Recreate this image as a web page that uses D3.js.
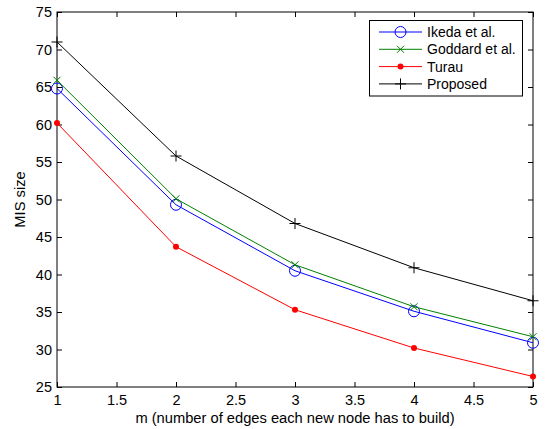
<!DOCTYPE html>
<html lang="en">
  <head>
    <meta charset="UTF-8" />
    <title>MIS size</title>
    <script src="https://d3js.org/d3.v7.min.js"></script>
    <style>
      body { margin: 0; background: #fff; }
      text { font-family: "Liberation Sans", Arial, sans-serif; fill: #000; }
    </style>
  </head>
  <body>
    <div id="chart"></div>
    <script>
      const mValues = [1, 2, 3, 4, 5];
      const ikeda = [64.8, 49.3, 40.5, 35.1, 30.9];
      const goddard = [65.9, 50.1, 41.3, 35.7, 31.7];
      const turau = [60.2, 43.7, 35.3, 30.2, 26.4];
      const proposed = [71.0, 55.8, 46.8, 40.9, 36.5];
      const xTicks = [1, 1.5, 2, 2.5, 3, 3.5, 4, 4.5, 5];
      const yTicks = [25, 30, 35, 40, 45, 50, 55, 60, 65, 70, 75];

      const series = [
        { name: "Ikeda et al.", values: ikeda, color: "#0000ff", marker: "circle" },
        { name: "Goddard et al.", values: goddard, color: "#008000", marker: "x" },
        { name: "Turau", values: turau, color: "#ff0000", marker: "dot" },
        { name: "Proposed", values: proposed, color: "#000000", marker: "plus" },
      ];

      const width = 553, height = 429;
      const margin = { left: 57, right: 20, top: 12, bottom: 42 };
      const svg = d3.select("#chart").append("svg")
        .attr("width", width).attr("height", height);

      const x = d3.scaleLinear().domain([1, 5]).range([margin.left, width - margin.right]);
      const y = d3.scaleLinear().domain([25, 75]).range([height - margin.bottom, margin.top]);

      const tickLen = 5;
      // axes with inward ticks on all four sides
      svg.append("g").attr("transform", `translate(0,${y(25)})`)
        .call(d3.axisBottom(x).tickValues(xTicks).tickSizeInner(-tickLen).tickSizeOuter(0).tickPadding(8).tickFormat(d3.format("")))
        .call(g => g.select(".domain").remove());
      svg.append("g").attr("transform", `translate(0,${y(75)})`)
        .call(d3.axisTop(x).tickValues(xTicks).tickSizeInner(-tickLen).tickSizeOuter(0).tickFormat(""))
        .call(g => g.select(".domain").remove());
      svg.append("g").attr("transform", `translate(${x(1)},0)`)
        .call(d3.axisLeft(y).tickValues(yTicks).tickSizeInner(-tickLen).tickSizeOuter(0).tickPadding(5))
        .call(g => g.select(".domain").remove());
      svg.append("g").attr("transform", `translate(${x(5)},0)`)
        .call(d3.axisRight(y).tickValues(yTicks).tickSizeInner(-tickLen).tickSizeOuter(0).tickFormat(""))
        .call(g => g.select(".domain").remove());

      svg.selectAll(".tick text").style("font-size", "14.5px").style("font-family", "Liberation Sans, Arial, sans-serif");
      svg.selectAll(".tick line").attr("stroke", "#000");

      svg.append("rect")
        .attr("x", x(1)).attr("y", y(75))
        .attr("width", x(5) - x(1)).attr("height", y(25) - y(75))
        .attr("fill", "none").attr("stroke", "#000").attr("stroke-width", 1);

      const line = d3.line().x((d, i) => x(mValues[i])).y(d => y(d));

      function drawMarker(g, type, cx, cy, color) {
        if (type === "circle") {
          g.append("circle").attr("cx", cx).attr("cy", cy).attr("r", 5.5)
            .attr("fill", "none").attr("stroke", color).attr("stroke-width", 1);
        } else if (type === "dot") {
          g.append("circle").attr("cx", cx).attr("cy", cy).attr("r", 3)
            .attr("fill", color);
        } else if (type === "x") {
          const s = 3.5;
          g.append("path").attr("d", `M${cx - s},${cy - s}L${cx + s},${cy + s}M${cx - s},${cy + s}L${cx + s},${cy - s}`)
            .attr("stroke", color).attr("stroke-width", 1);
        } else if (type === "plus") {
          const s = 5.5;
          g.append("path").attr("d", `M${cx - s},${cy}L${cx + s},${cy}M${cx},${cy - s}L${cx},${cy + s}`)
            .attr("stroke", color).attr("stroke-width", 1);
        }
      }

      series.forEach(s => {
        const g = svg.append("g");
        g.append("path").datum(s.values).attr("d", line)
          .attr("fill", "none").attr("stroke", s.color).attr("stroke-width", 1);
        s.values.forEach((v, i) => drawMarker(g, s.marker, x(mValues[i]), y(v), s.color));
      });

      // axis labels
      svg.append("text")
        .attr("x", (x(1) + x(5)) / 2).attr("y", 423)
        .attr("text-anchor", "middle").style("font-size", "14.7px")
        .text("m (number of edges each new node has to build)");
      svg.append("text")
        .attr("transform", `translate(25,${(y(25) + y(75)) / 2}) rotate(-90)`)
        .attr("text-anchor", "middle").style("font-size", "14.7px")
        .text("MIS size");

      // legend
      const lg = svg.append("g");
      lg.append("rect").attr("x", 369.5).attr("y", 20.5).attr("width", 153).attr("height", 75.5)
        .attr("fill", "#fff").attr("stroke", "#000").attr("stroke-width", 1);
      series.forEach((s, i) => {
        const ly = 32 + i * 17.3;
        lg.append("line").attr("x1", 379).attr("x2", 422).attr("y1", ly).attr("y2", ly)
          .attr("stroke", s.color).attr("stroke-width", 1);
        drawMarker(lg, s.marker, 400.5, ly, s.color);
        lg.append("text").attr("x", 427).attr("y", ly).attr("dy", "0.35em")
          .style("font-size", "14px").text(s.name);
      });
    </script>
  </body>
</html>
